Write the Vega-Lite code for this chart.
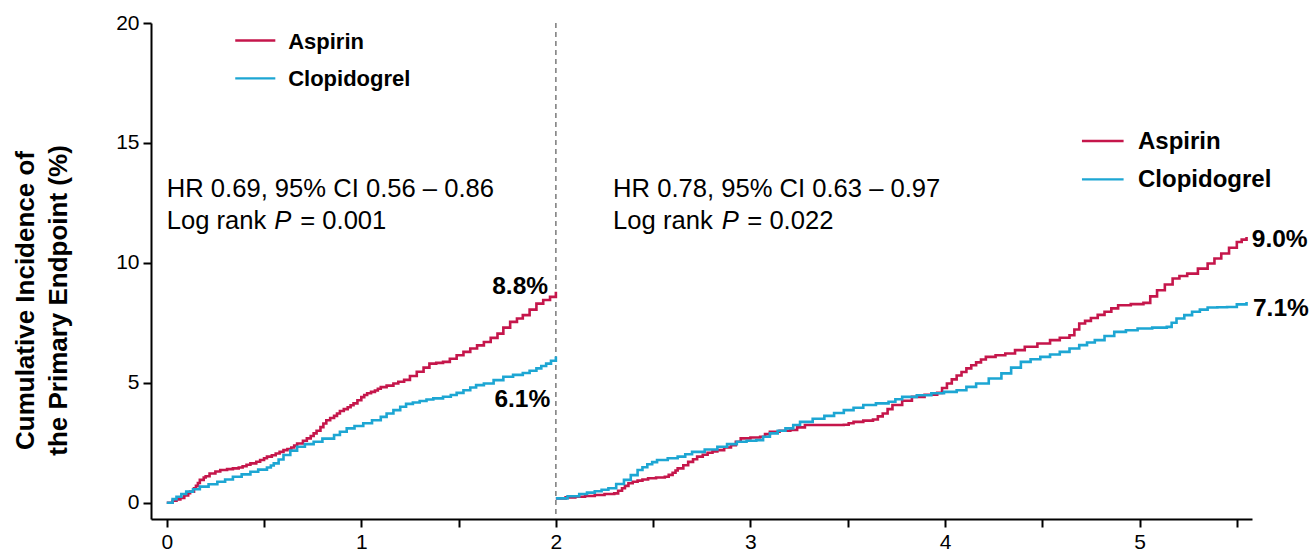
{
  "$schema": "https://vega.github.io/schema/vega-lite/v6.json",
  "autosize": "none",
  "width": 1101,
  "height": 496,
  "padding": {"left": 151, "top": 23, "right": 63, "bottom": 35},
  "background": "white",
  "config": {
    "font": "Liberation Sans",
    "view": {"stroke": null},
    "axis": {
      "grid": false,
      "domainColor": "#000000",
      "domainWidth": 2,
      "tickColor": "#000000",
      "tickWidth": 2,
      "tickSize": 8,
      "labelColor": "#000000",
      "labelFont": "Liberation Sans",
      "labelFontSize": 21
    }
  },
  "datasets": {
    "curves": [
      {"group": "Aspirin", "period": "0-2", "t": 0, "pct": 0},
      {"group": "Aspirin", "period": "0-2", "t": 0.03, "pct": 0.08},
      {"group": "Aspirin", "period": "0-2", "t": 0.05, "pct": 0.14},
      {"group": "Aspirin", "period": "0-2", "t": 0.07, "pct": 0.2},
      {"group": "Aspirin", "period": "0-2", "t": 0.09, "pct": 0.3},
      {"group": "Aspirin", "period": "0-2", "t": 0.11, "pct": 0.4},
      {"group": "Aspirin", "period": "0-2", "t": 0.12, "pct": 0.46},
      {"group": "Aspirin", "period": "0-2", "t": 0.14, "pct": 0.6},
      {"group": "Aspirin", "period": "0-2", "t": 0.15, "pct": 0.7},
      {"group": "Aspirin", "period": "0-2", "t": 0.16, "pct": 0.82},
      {"group": "Aspirin", "period": "0-2", "t": 0.17, "pct": 0.95},
      {"group": "Aspirin", "period": "0-2", "t": 0.19, "pct": 1.05},
      {"group": "Aspirin", "period": "0-2", "t": 0.2, "pct": 1.1},
      {"group": "Aspirin", "period": "0-2", "t": 0.22, "pct": 1.22},
      {"group": "Aspirin", "period": "0-2", "t": 0.25, "pct": 1.3},
      {"group": "Aspirin", "period": "0-2", "t": 0.275, "pct": 1.36},
      {"group": "Aspirin", "period": "0-2", "t": 0.31, "pct": 1.4},
      {"group": "Aspirin", "period": "0-2", "t": 0.34, "pct": 1.43},
      {"group": "Aspirin", "period": "0-2", "t": 0.37, "pct": 1.47},
      {"group": "Aspirin", "period": "0-2", "t": 0.39, "pct": 1.52},
      {"group": "Aspirin", "period": "0-2", "t": 0.41, "pct": 1.58},
      {"group": "Aspirin", "period": "0-2", "t": 0.43, "pct": 1.64},
      {"group": "Aspirin", "period": "0-2", "t": 0.46, "pct": 1.71},
      {"group": "Aspirin", "period": "0-2", "t": 0.48, "pct": 1.78},
      {"group": "Aspirin", "period": "0-2", "t": 0.5, "pct": 1.85},
      {"group": "Aspirin", "period": "0-2", "t": 0.515, "pct": 1.92},
      {"group": "Aspirin", "period": "0-2", "t": 0.54, "pct": 1.98},
      {"group": "Aspirin", "period": "0-2", "t": 0.56, "pct": 2.05},
      {"group": "Aspirin", "period": "0-2", "t": 0.58, "pct": 2.12},
      {"group": "Aspirin", "period": "0-2", "t": 0.6, "pct": 2.19},
      {"group": "Aspirin", "period": "0-2", "t": 0.62, "pct": 2.24},
      {"group": "Aspirin", "period": "0-2", "t": 0.64, "pct": 2.3},
      {"group": "Aspirin", "period": "0-2", "t": 0.655, "pct": 2.38},
      {"group": "Aspirin", "period": "0-2", "t": 0.67, "pct": 2.47},
      {"group": "Aspirin", "period": "0-2", "t": 0.7, "pct": 2.58},
      {"group": "Aspirin", "period": "0-2", "t": 0.72, "pct": 2.68},
      {"group": "Aspirin", "period": "0-2", "t": 0.74, "pct": 2.78},
      {"group": "Aspirin", "period": "0-2", "t": 0.755, "pct": 2.89},
      {"group": "Aspirin", "period": "0-2", "t": 0.77, "pct": 3.0},
      {"group": "Aspirin", "period": "0-2", "t": 0.79, "pct": 3.15},
      {"group": "Aspirin", "period": "0-2", "t": 0.805, "pct": 3.3},
      {"group": "Aspirin", "period": "0-2", "t": 0.82, "pct": 3.44},
      {"group": "Aspirin", "period": "0-2", "t": 0.84, "pct": 3.53},
      {"group": "Aspirin", "period": "0-2", "t": 0.86, "pct": 3.62},
      {"group": "Aspirin", "period": "0-2", "t": 0.875, "pct": 3.72},
      {"group": "Aspirin", "period": "0-2", "t": 0.89, "pct": 3.82},
      {"group": "Aspirin", "period": "0-2", "t": 0.91, "pct": 3.9},
      {"group": "Aspirin", "period": "0-2", "t": 0.93, "pct": 3.98},
      {"group": "Aspirin", "period": "0-2", "t": 0.945, "pct": 4.06},
      {"group": "Aspirin", "period": "0-2", "t": 0.96, "pct": 4.14},
      {"group": "Aspirin", "period": "0-2", "t": 0.98, "pct": 4.27},
      {"group": "Aspirin", "period": "0-2", "t": 1.0, "pct": 4.4},
      {"group": "Aspirin", "period": "0-2", "t": 1.015, "pct": 4.49},
      {"group": "Aspirin", "period": "0-2", "t": 1.03, "pct": 4.56},
      {"group": "Aspirin", "period": "0-2", "t": 1.05, "pct": 4.62},
      {"group": "Aspirin", "period": "0-2", "t": 1.07, "pct": 4.68},
      {"group": "Aspirin", "period": "0-2", "t": 1.085, "pct": 4.75},
      {"group": "Aspirin", "period": "0-2", "t": 1.1, "pct": 4.82},
      {"group": "Aspirin", "period": "0-2", "t": 1.13, "pct": 4.88},
      {"group": "Aspirin", "period": "0-2", "t": 1.165, "pct": 4.97},
      {"group": "Aspirin", "period": "0-2", "t": 1.19, "pct": 5.04},
      {"group": "Aspirin", "period": "0-2", "t": 1.22, "pct": 5.12},
      {"group": "Aspirin", "period": "0-2", "t": 1.25, "pct": 5.28},
      {"group": "Aspirin", "period": "0-2", "t": 1.285, "pct": 5.46},
      {"group": "Aspirin", "period": "0-2", "t": 1.32, "pct": 5.63},
      {"group": "Aspirin", "period": "0-2", "t": 1.35, "pct": 5.8},
      {"group": "Aspirin", "period": "0-2", "t": 1.385, "pct": 5.83},
      {"group": "Aspirin", "period": "0-2", "t": 1.42, "pct": 5.87},
      {"group": "Aspirin", "period": "0-2", "t": 1.455, "pct": 6.0},
      {"group": "Aspirin", "period": "0-2", "t": 1.49, "pct": 6.15},
      {"group": "Aspirin", "period": "0-2", "t": 1.525, "pct": 6.29},
      {"group": "Aspirin", "period": "0-2", "t": 1.56, "pct": 6.43},
      {"group": "Aspirin", "period": "0-2", "t": 1.595, "pct": 6.56},
      {"group": "Aspirin", "period": "0-2", "t": 1.63, "pct": 6.7},
      {"group": "Aspirin", "period": "0-2", "t": 1.665, "pct": 6.87},
      {"group": "Aspirin", "period": "0-2", "t": 1.7, "pct": 7.05},
      {"group": "Aspirin", "period": "0-2", "t": 1.73, "pct": 7.3},
      {"group": "Aspirin", "period": "0-2", "t": 1.765, "pct": 7.54},
      {"group": "Aspirin", "period": "0-2", "t": 1.8, "pct": 7.68},
      {"group": "Aspirin", "period": "0-2", "t": 1.83, "pct": 7.82},
      {"group": "Aspirin", "period": "0-2", "t": 1.865, "pct": 8.05},
      {"group": "Aspirin", "period": "0-2", "t": 1.9, "pct": 8.3},
      {"group": "Aspirin", "period": "0-2", "t": 1.935, "pct": 8.45},
      {"group": "Aspirin", "period": "0-2", "t": 1.97, "pct": 8.58},
      {"group": "Aspirin", "period": "0-2", "t": 2.0, "pct": 8.8},

      {"group": "Clopidogrel", "period": "0-2", "t": 0, "pct": 0},
      {"group": "Clopidogrel", "period": "0-2", "t": 0.03, "pct": 0.15},
      {"group": "Clopidogrel", "period": "0-2", "t": 0.05, "pct": 0.25},
      {"group": "Clopidogrel", "period": "0-2", "t": 0.075, "pct": 0.36},
      {"group": "Clopidogrel", "period": "0-2", "t": 0.1, "pct": 0.46},
      {"group": "Clopidogrel", "period": "0-2", "t": 0.135, "pct": 0.56},
      {"group": "Clopidogrel", "period": "0-2", "t": 0.17, "pct": 0.67},
      {"group": "Clopidogrel", "period": "0-2", "t": 0.215, "pct": 0.77},
      {"group": "Clopidogrel", "period": "0-2", "t": 0.26, "pct": 0.87},
      {"group": "Clopidogrel", "period": "0-2", "t": 0.3, "pct": 0.97},
      {"group": "Clopidogrel", "period": "0-2", "t": 0.34, "pct": 1.08},
      {"group": "Clopidogrel", "period": "0-2", "t": 0.385, "pct": 1.18},
      {"group": "Clopidogrel", "period": "0-2", "t": 0.43, "pct": 1.29},
      {"group": "Clopidogrel", "period": "0-2", "t": 0.47, "pct": 1.38},
      {"group": "Clopidogrel", "period": "0-2", "t": 0.515, "pct": 1.47},
      {"group": "Clopidogrel", "period": "0-2", "t": 0.535, "pct": 1.55},
      {"group": "Clopidogrel", "period": "0-2", "t": 0.55, "pct": 1.64},
      {"group": "Clopidogrel", "period": "0-2", "t": 0.575, "pct": 1.8},
      {"group": "Clopidogrel", "period": "0-2", "t": 0.6, "pct": 1.99},
      {"group": "Clopidogrel", "period": "0-2", "t": 0.635, "pct": 2.17},
      {"group": "Clopidogrel", "period": "0-2", "t": 0.67, "pct": 2.33},
      {"group": "Clopidogrel", "period": "0-2", "t": 0.71, "pct": 2.44},
      {"group": "Clopidogrel", "period": "0-2", "t": 0.755, "pct": 2.54},
      {"group": "Clopidogrel", "period": "0-2", "t": 0.8, "pct": 2.67},
      {"group": "Clopidogrel", "period": "0-2", "t": 0.86, "pct": 2.82},
      {"group": "Clopidogrel", "period": "0-2", "t": 0.89, "pct": 2.96},
      {"group": "Clopidogrel", "period": "0-2", "t": 0.925, "pct": 3.1},
      {"group": "Clopidogrel", "period": "0-2", "t": 0.965, "pct": 3.2},
      {"group": "Clopidogrel", "period": "0-2", "t": 1.01, "pct": 3.31},
      {"group": "Clopidogrel", "period": "0-2", "t": 1.055, "pct": 3.44},
      {"group": "Clopidogrel", "period": "0-2", "t": 1.1, "pct": 3.58},
      {"group": "Clopidogrel", "period": "0-2", "t": 1.13, "pct": 3.72},
      {"group": "Clopidogrel", "period": "0-2", "t": 1.165, "pct": 3.86},
      {"group": "Clopidogrel", "period": "0-2", "t": 1.2, "pct": 4.0},
      {"group": "Clopidogrel", "period": "0-2", "t": 1.23, "pct": 4.12},
      {"group": "Clopidogrel", "period": "0-2", "t": 1.265, "pct": 4.18},
      {"group": "Clopidogrel", "period": "0-2", "t": 1.3, "pct": 4.24},
      {"group": "Clopidogrel", "period": "0-2", "t": 1.335, "pct": 4.3},
      {"group": "Clopidogrel", "period": "0-2", "t": 1.37, "pct": 4.35},
      {"group": "Clopidogrel", "period": "0-2", "t": 1.42, "pct": 4.42},
      {"group": "Clopidogrel", "period": "0-2", "t": 1.46, "pct": 4.49},
      {"group": "Clopidogrel", "period": "0-2", "t": 1.49, "pct": 4.58},
      {"group": "Clopidogrel", "period": "0-2", "t": 1.525, "pct": 4.69},
      {"group": "Clopidogrel", "period": "0-2", "t": 1.56, "pct": 4.8},
      {"group": "Clopidogrel", "period": "0-2", "t": 1.59, "pct": 4.9},
      {"group": "Clopidogrel", "period": "0-2", "t": 1.63, "pct": 4.97},
      {"group": "Clopidogrel", "period": "0-2", "t": 1.68, "pct": 5.11},
      {"group": "Clopidogrel", "period": "0-2", "t": 1.73, "pct": 5.25},
      {"group": "Clopidogrel", "period": "0-2", "t": 1.78, "pct": 5.33},
      {"group": "Clopidogrel", "period": "0-2", "t": 1.83, "pct": 5.41},
      {"group": "Clopidogrel", "period": "0-2", "t": 1.865, "pct": 5.5},
      {"group": "Clopidogrel", "period": "0-2", "t": 1.9, "pct": 5.6},
      {"group": "Clopidogrel", "period": "0-2", "t": 1.925, "pct": 5.7},
      {"group": "Clopidogrel", "period": "0-2", "t": 1.95, "pct": 5.8},
      {"group": "Clopidogrel", "period": "0-2", "t": 1.975, "pct": 5.92},
      {"group": "Clopidogrel", "period": "0-2", "t": 2.0, "pct": 6.1},

      {"group": "Aspirin", "period": "2+", "t": 2.0, "pct": 0.18},
      {"group": "Aspirin", "period": "2+", "t": 2.05, "pct": 0.22},
      {"group": "Aspirin", "period": "2+", "t": 2.1, "pct": 0.25},
      {"group": "Aspirin", "period": "2+", "t": 2.15, "pct": 0.28},
      {"group": "Aspirin", "period": "2+", "t": 2.2, "pct": 0.32},
      {"group": "Aspirin", "period": "2+", "t": 2.25, "pct": 0.36},
      {"group": "Aspirin", "period": "2+", "t": 2.3, "pct": 0.39},
      {"group": "Aspirin", "period": "2+", "t": 2.32, "pct": 0.5},
      {"group": "Aspirin", "period": "2+", "t": 2.34, "pct": 0.6},
      {"group": "Aspirin", "period": "2+", "t": 2.355, "pct": 0.7},
      {"group": "Aspirin", "period": "2+", "t": 2.373, "pct": 0.81},
      {"group": "Aspirin", "period": "2+", "t": 2.395, "pct": 0.87},
      {"group": "Aspirin", "period": "2+", "t": 2.42, "pct": 0.92},
      {"group": "Aspirin", "period": "2+", "t": 2.445, "pct": 0.97},
      {"group": "Aspirin", "period": "2+", "t": 2.474, "pct": 1.02},
      {"group": "Aspirin", "period": "2+", "t": 2.515, "pct": 1.05},
      {"group": "Aspirin", "period": "2+", "t": 2.56, "pct": 1.08},
      {"group": "Aspirin", "period": "2+", "t": 2.58, "pct": 1.16},
      {"group": "Aspirin", "period": "2+", "t": 2.6, "pct": 1.25},
      {"group": "Aspirin", "period": "2+", "t": 2.615, "pct": 1.34},
      {"group": "Aspirin", "period": "2+", "t": 2.626, "pct": 1.43},
      {"group": "Aspirin", "period": "2+", "t": 2.655, "pct": 1.56},
      {"group": "Aspirin", "period": "2+", "t": 2.68, "pct": 1.7},
      {"group": "Aspirin", "period": "2+", "t": 2.705, "pct": 1.81},
      {"group": "Aspirin", "period": "2+", "t": 2.726, "pct": 1.92},
      {"group": "Aspirin", "period": "2+", "t": 2.755, "pct": 2.0},
      {"group": "Aspirin", "period": "2+", "t": 2.78, "pct": 2.08},
      {"group": "Aspirin", "period": "2+", "t": 2.805, "pct": 2.14},
      {"group": "Aspirin", "period": "2+", "t": 2.83, "pct": 2.19},
      {"group": "Aspirin", "period": "2+", "t": 2.865, "pct": 2.3},
      {"group": "Aspirin", "period": "2+", "t": 2.9, "pct": 2.4},
      {"group": "Aspirin", "period": "2+", "t": 2.925, "pct": 2.54},
      {"group": "Aspirin", "period": "2+", "t": 2.95, "pct": 2.68},
      {"group": "Aspirin", "period": "2+", "t": 3.0, "pct": 2.72},
      {"group": "Aspirin", "period": "2+", "t": 3.05, "pct": 2.75},
      {"group": "Aspirin", "period": "2+", "t": 3.075, "pct": 2.86},
      {"group": "Aspirin", "period": "2+", "t": 3.1, "pct": 2.96},
      {"group": "Aspirin", "period": "2+", "t": 3.15, "pct": 3.0},
      {"group": "Aspirin", "period": "2+", "t": 3.205, "pct": 3.03},
      {"group": "Aspirin", "period": "2+", "t": 3.24, "pct": 3.14},
      {"group": "Aspirin", "period": "2+", "t": 3.28, "pct": 3.24},
      {"group": "Aspirin", "period": "2+", "t": 3.48, "pct": 3.25},
      {"group": "Aspirin", "period": "2+", "t": 3.505, "pct": 3.31},
      {"group": "Aspirin", "period": "2+", "t": 3.53, "pct": 3.37},
      {"group": "Aspirin", "period": "2+", "t": 3.58, "pct": 3.42},
      {"group": "Aspirin", "period": "2+", "t": 3.63, "pct": 3.47},
      {"group": "Aspirin", "period": "2+", "t": 3.655, "pct": 3.6},
      {"group": "Aspirin", "period": "2+", "t": 3.68, "pct": 3.72},
      {"group": "Aspirin", "period": "2+", "t": 3.705, "pct": 3.9},
      {"group": "Aspirin", "period": "2+", "t": 3.73, "pct": 4.07},
      {"group": "Aspirin", "period": "2+", "t": 3.78, "pct": 4.25},
      {"group": "Aspirin", "period": "2+", "t": 3.83, "pct": 4.41},
      {"group": "Aspirin", "period": "2+", "t": 3.895, "pct": 4.5},
      {"group": "Aspirin", "period": "2+", "t": 3.96, "pct": 4.58},
      {"group": "Aspirin", "period": "2+", "t": 3.985, "pct": 4.78},
      {"group": "Aspirin", "period": "2+", "t": 4.01, "pct": 4.97},
      {"group": "Aspirin", "period": "2+", "t": 4.035, "pct": 5.14},
      {"group": "Aspirin", "period": "2+", "t": 4.06, "pct": 5.3},
      {"group": "Aspirin", "period": "2+", "t": 4.085, "pct": 5.45},
      {"group": "Aspirin", "period": "2+", "t": 4.11, "pct": 5.6},
      {"group": "Aspirin", "period": "2+", "t": 4.135, "pct": 5.73},
      {"group": "Aspirin", "period": "2+", "t": 4.16, "pct": 5.85},
      {"group": "Aspirin", "period": "2+", "t": 4.185, "pct": 5.97},
      {"group": "Aspirin", "period": "2+", "t": 4.21, "pct": 6.08},
      {"group": "Aspirin", "period": "2+", "t": 4.26, "pct": 6.15},
      {"group": "Aspirin", "period": "2+", "t": 4.31, "pct": 6.22},
      {"group": "Aspirin", "period": "2+", "t": 4.36, "pct": 6.36},
      {"group": "Aspirin", "period": "2+", "t": 4.41, "pct": 6.5},
      {"group": "Aspirin", "period": "2+", "t": 4.475, "pct": 6.64},
      {"group": "Aspirin", "period": "2+", "t": 4.54, "pct": 6.78},
      {"group": "Aspirin", "period": "2+", "t": 4.59, "pct": 6.88},
      {"group": "Aspirin", "period": "2+", "t": 4.64, "pct": 6.98},
      {"group": "Aspirin", "period": "2+", "t": 4.665, "pct": 7.22},
      {"group": "Aspirin", "period": "2+", "t": 4.69, "pct": 7.47},
      {"group": "Aspirin", "period": "2+", "t": 4.72, "pct": 7.58},
      {"group": "Aspirin", "period": "2+", "t": 4.75, "pct": 7.7},
      {"group": "Aspirin", "period": "2+", "t": 4.785, "pct": 7.83},
      {"group": "Aspirin", "period": "2+", "t": 4.82, "pct": 7.96},
      {"group": "Aspirin", "period": "2+", "t": 4.855, "pct": 8.1},
      {"group": "Aspirin", "period": "2+", "t": 4.89, "pct": 8.23},
      {"group": "Aspirin", "period": "2+", "t": 4.955, "pct": 8.28},
      {"group": "Aspirin", "period": "2+", "t": 5.02, "pct": 8.33},
      {"group": "Aspirin", "period": "2+", "t": 5.055, "pct": 8.6},
      {"group": "Aspirin", "period": "2+", "t": 5.09, "pct": 8.86},
      {"group": "Aspirin", "period": "2+", "t": 5.13, "pct": 9.1},
      {"group": "Aspirin", "period": "2+", "t": 5.17, "pct": 9.35},
      {"group": "Aspirin", "period": "2+", "t": 5.205, "pct": 9.45},
      {"group": "Aspirin", "period": "2+", "t": 5.245, "pct": 9.55},
      {"group": "Aspirin", "period": "2+", "t": 5.3, "pct": 9.76},
      {"group": "Aspirin", "period": "2+", "t": 5.35, "pct": 9.97},
      {"group": "Aspirin", "period": "2+", "t": 5.385, "pct": 10.18},
      {"group": "Aspirin", "period": "2+", "t": 5.42, "pct": 10.39},
      {"group": "Aspirin", "period": "2+", "t": 5.46, "pct": 10.63},
      {"group": "Aspirin", "period": "2+", "t": 5.5, "pct": 10.87},
      {"group": "Aspirin", "period": "2+", "t": 5.525, "pct": 10.97},
      {"group": "Aspirin", "period": "2+", "t": 5.55, "pct": 11.08},

      {"group": "Clopidogrel", "period": "2+", "t": 2.0, "pct": 0.18},
      {"group": "Clopidogrel", "period": "2+", "t": 2.06, "pct": 0.27},
      {"group": "Clopidogrel", "period": "2+", "t": 2.12, "pct": 0.36},
      {"group": "Clopidogrel", "period": "2+", "t": 2.16, "pct": 0.42},
      {"group": "Clopidogrel", "period": "2+", "t": 2.2, "pct": 0.48},
      {"group": "Clopidogrel", "period": "2+", "t": 2.235, "pct": 0.54},
      {"group": "Clopidogrel", "period": "2+", "t": 2.27, "pct": 0.6},
      {"group": "Clopidogrel", "period": "2+", "t": 2.31, "pct": 0.78},
      {"group": "Clopidogrel", "period": "2+", "t": 2.35, "pct": 0.95},
      {"group": "Clopidogrel", "period": "2+", "t": 2.385, "pct": 1.15},
      {"group": "Clopidogrel", "period": "2+", "t": 2.42, "pct": 1.36},
      {"group": "Clopidogrel", "period": "2+", "t": 2.445, "pct": 1.48},
      {"group": "Clopidogrel", "period": "2+", "t": 2.47, "pct": 1.6},
      {"group": "Clopidogrel", "period": "2+", "t": 2.495, "pct": 1.69},
      {"group": "Clopidogrel", "period": "2+", "t": 2.52, "pct": 1.78},
      {"group": "Clopidogrel", "period": "2+", "t": 2.575, "pct": 1.85},
      {"group": "Clopidogrel", "period": "2+", "t": 2.626, "pct": 1.92},
      {"group": "Clopidogrel", "period": "2+", "t": 2.665, "pct": 2.02},
      {"group": "Clopidogrel", "period": "2+", "t": 2.7, "pct": 2.12},
      {"group": "Clopidogrel", "period": "2+", "t": 2.765, "pct": 2.22},
      {"group": "Clopidogrel", "period": "2+", "t": 2.83, "pct": 2.33},
      {"group": "Clopidogrel", "period": "2+", "t": 2.88, "pct": 2.44},
      {"group": "Clopidogrel", "period": "2+", "t": 2.93, "pct": 2.54},
      {"group": "Clopidogrel", "period": "2+", "t": 2.98, "pct": 2.58},
      {"group": "Clopidogrel", "period": "2+", "t": 3.03, "pct": 2.61},
      {"group": "Clopidogrel", "period": "2+", "t": 3.065, "pct": 2.75},
      {"group": "Clopidogrel", "period": "2+", "t": 3.1, "pct": 2.89},
      {"group": "Clopidogrel", "period": "2+", "t": 3.14, "pct": 3.0},
      {"group": "Clopidogrel", "period": "2+", "t": 3.18, "pct": 3.1},
      {"group": "Clopidogrel", "period": "2+", "t": 3.22, "pct": 3.24},
      {"group": "Clopidogrel", "period": "2+", "t": 3.255, "pct": 3.37},
      {"group": "Clopidogrel", "period": "2+", "t": 3.32, "pct": 3.5},
      {"group": "Clopidogrel", "period": "2+", "t": 3.38, "pct": 3.62},
      {"group": "Clopidogrel", "period": "2+", "t": 3.43, "pct": 3.74},
      {"group": "Clopidogrel", "period": "2+", "t": 3.48, "pct": 3.86},
      {"group": "Clopidogrel", "period": "2+", "t": 3.53, "pct": 3.96},
      {"group": "Clopidogrel", "period": "2+", "t": 3.58, "pct": 4.07},
      {"group": "Clopidogrel", "period": "2+", "t": 3.645, "pct": 4.14},
      {"group": "Clopidogrel", "period": "2+", "t": 3.71, "pct": 4.21},
      {"group": "Clopidogrel", "period": "2+", "t": 3.745, "pct": 4.31},
      {"group": "Clopidogrel", "period": "2+", "t": 3.78, "pct": 4.41},
      {"group": "Clopidogrel", "period": "2+", "t": 3.855, "pct": 4.48},
      {"group": "Clopidogrel", "period": "2+", "t": 3.93, "pct": 4.56},
      {"group": "Clopidogrel", "period": "2+", "t": 3.995, "pct": 4.62},
      {"group": "Clopidogrel", "period": "2+", "t": 4.06, "pct": 4.69},
      {"group": "Clopidogrel", "period": "2+", "t": 4.11, "pct": 4.83},
      {"group": "Clopidogrel", "period": "2+", "t": 4.16, "pct": 4.97},
      {"group": "Clopidogrel", "period": "2+", "t": 4.225, "pct": 5.18},
      {"group": "Clopidogrel", "period": "2+", "t": 4.29, "pct": 5.39},
      {"group": "Clopidogrel", "period": "2+", "t": 4.34, "pct": 5.63},
      {"group": "Clopidogrel", "period": "2+", "t": 4.39, "pct": 5.87},
      {"group": "Clopidogrel", "period": "2+", "t": 4.44, "pct": 5.98},
      {"group": "Clopidogrel", "period": "2+", "t": 4.49, "pct": 6.08},
      {"group": "Clopidogrel", "period": "2+", "t": 4.54, "pct": 6.18},
      {"group": "Clopidogrel", "period": "2+", "t": 4.59, "pct": 6.29},
      {"group": "Clopidogrel", "period": "2+", "t": 4.64, "pct": 6.43},
      {"group": "Clopidogrel", "period": "2+", "t": 4.69, "pct": 6.57},
      {"group": "Clopidogrel", "period": "2+", "t": 4.73, "pct": 6.68},
      {"group": "Clopidogrel", "period": "2+", "t": 4.77, "pct": 6.78},
      {"group": "Clopidogrel", "period": "2+", "t": 4.82, "pct": 6.95},
      {"group": "Clopidogrel", "period": "2+", "t": 4.87, "pct": 7.12},
      {"group": "Clopidogrel", "period": "2+", "t": 4.93, "pct": 7.19},
      {"group": "Clopidogrel", "period": "2+", "t": 4.99, "pct": 7.26},
      {"group": "Clopidogrel", "period": "2+", "t": 5.065, "pct": 7.3},
      {"group": "Clopidogrel", "period": "2+", "t": 5.14, "pct": 7.33},
      {"group": "Clopidogrel", "period": "2+", "t": 5.165, "pct": 7.5},
      {"group": "Clopidogrel", "period": "2+", "t": 5.19, "pct": 7.68},
      {"group": "Clopidogrel", "period": "2+", "t": 5.23, "pct": 7.82},
      {"group": "Clopidogrel", "period": "2+", "t": 5.27, "pct": 7.96},
      {"group": "Clopidogrel", "period": "2+", "t": 5.31, "pct": 8.05},
      {"group": "Clopidogrel", "period": "2+", "t": 5.35, "pct": 8.14},
      {"group": "Clopidogrel", "period": "2+", "t": 5.4, "pct": 8.15},
      {"group": "Clopidogrel", "period": "2+", "t": 5.45, "pct": 8.16},
      {"group": "Clopidogrel", "period": "2+", "t": 5.5, "pct": 8.27},
      {"group": "Clopidogrel", "period": "2+", "t": 5.55, "pct": 8.37}
    ],
    "legendKeys": [
      {"panel": "left", "group": "Aspirin", "t0": 0.352, "t1": 0.558, "tText": 0.624, "pct": 19.27},
      {"panel": "left", "group": "Clopidogrel", "t0": 0.352, "t1": 0.558, "tText": 0.624, "pct": 17.69},
      {"panel": "right", "group": "Aspirin", "t0": 4.704, "t1": 4.918, "tText": 4.992, "pct": 15.08},
      {"panel": "right", "group": "Clopidogrel", "t0": 4.704, "t1": 4.918, "tText": 4.992, "pct": 13.48}
    ],
    "stats": [
      {"part": "plain", "t": 0.0, "pct": 12.74, "text": "HR 0.69, 95% CI 0.56 – 0.86"},
      {"part": "plain", "t": 0.0, "pct": 11.4, "text": "Log rank"},
      {"part": "symbol", "t": 0.552, "pct": 11.4, "text": "P"},
      {"part": "plain", "t": 0.686, "pct": 11.4, "text": "= 0.001"},
      {"part": "plain", "t": 2.294, "pct": 12.74, "text": "HR 0.78, 95% CI 0.63 – 0.97"},
      {"part": "plain", "t": 2.294, "pct": 11.4, "text": "Log rank"},
      {"part": "symbol", "t": 2.852, "pct": 11.4, "text": "P"},
      {"part": "plain", "t": 2.984, "pct": 11.4, "text": "= 0.022"}
    ],
    "endpoints": [
      {"period": "0-2", "t": 1.96, "pct": 8.69, "text": "8.8%"},
      {"period": "0-2", "t": 1.971, "pct": 4.0, "text": "6.1%"},
      {"period": "2+", "t": 5.577, "pct": 10.66, "text": "9.0%"},
      {"period": "2+", "t": 5.583, "pct": 7.78, "text": "7.1%"}
    ]
  },
  "layer": [
    {
      "data": {"values": [{"t": 2}]},
      "mark": {"type": "rule", "color": "#7a7a7a", "strokeWidth": 1.5, "strokeDash": [5, 4]},
      "encoding": {
        "x": {"field": "t", "type": "quantitative"}
      }
    },
    {
      "data": {"name": "curves"},
      "mark": {"type": "line", "interpolate": "step-after", "strokeWidth": 2.6, "strokeJoin": "miter"},
      "encoding": {
        "x": {
          "field": "t",
          "type": "quantitative",
          "scale": {"domain": [-0.081, 5.578], "nice": false, "zero": false},
          "axis": {
            "title": null,
            "values": [0, 0.5, 1, 1.5, 2, 2.5, 3, 3.5, 4, 4.5, 5, 5.5],
            "labelExpr": "datum.value % 1 === 0 ? format(datum.value, 'd') : ''",
            "labelPadding": 4,
            "labelFontSize": 21
          }
        },
        "y": {
          "field": "pct",
          "type": "quantitative",
          "scale": {"domain": [-0.68, 20], "nice": false, "zero": false},
          "axis": {
            "title": ["Cumulative Incidence of", "the Primary Endpoint (%)"],
            "titleFont": "Liberation Sans",
            "titleFontSize": 26,
            "titleFontWeight": "bold",
            "titleColor": "#000000",
            "titleLineHeight": 33,
            "titlePadding": 44,
            "titleY": 277,
            "values": [0, 5, 10, 15, 20],
            "labelPadding": 4,
            "labelFontSize": 21
          }
        },
        "color": {
          "field": "group",
          "type": "nominal",
          "scale": {"domain": ["Aspirin", "Clopidogrel"], "range": ["#C5164B", "#1DA6D3"]},
          "legend": null
        },
        "detail": {"field": "period"}
      }
    },
    {
      "data": {"name": "legendKeys"},
      "mark": {"type": "rule", "strokeWidth": 2.4},
      "encoding": {
        "x": {"field": "t0", "type": "quantitative"},
        "x2": {"field": "t1"},
        "y": {"field": "pct", "type": "quantitative"},
        "color": {"field": "group", "type": "nominal", "legend": null}
      }
    },
    {
      "data": {"name": "legendKeys"},
      "transform": [{"filter": "datum.panel === 'left'"}],
      "mark": {"type": "text", "align": "left", "baseline": "middle", "fontSize": 22, "fontWeight": "bold", "color": "#000000", "dy": 1},
      "encoding": {
        "x": {"field": "tText", "type": "quantitative"},
        "y": {"field": "pct", "type": "quantitative"},
        "text": {"field": "group"}
      }
    },
    {
      "data": {"name": "legendKeys"},
      "transform": [{"filter": "datum.panel === 'right'"}],
      "mark": {"type": "text", "align": "left", "baseline": "middle", "fontSize": 24, "fontWeight": "bold", "color": "#000000", "dy": 1},
      "encoding": {
        "x": {"field": "tText", "type": "quantitative"},
        "y": {"field": "pct", "type": "quantitative"},
        "text": {"field": "group"}
      }
    },
    {
      "data": {"name": "stats"},
      "transform": [{"filter": "datum.part === 'plain'"}],
      "mark": {"type": "text", "align": "left", "baseline": "alphabetic", "fontSize": 25.6, "color": "#000000"},
      "encoding": {
        "x": {"field": "t", "type": "quantitative"},
        "y": {"field": "pct", "type": "quantitative"},
        "text": {"field": "text"}
      }
    },
    {
      "data": {"name": "stats"},
      "transform": [{"filter": "datum.part === 'symbol'"}],
      "mark": {"type": "text", "align": "left", "baseline": "alphabetic", "fontSize": 25.6, "fontStyle": "italic", "color": "#000000"},
      "encoding": {
        "x": {"field": "t", "type": "quantitative"},
        "y": {"field": "pct", "type": "quantitative"},
        "text": {"field": "text"}
      }
    },
    {
      "data": {"name": "endpoints"},
      "transform": [{"filter": "datum.period === '0-2'"}],
      "mark": {"type": "text", "align": "right", "baseline": "alphabetic", "fontSize": 24.5, "fontWeight": "bold", "color": "#000000"},
      "encoding": {
        "x": {"field": "t", "type": "quantitative"},
        "y": {"field": "pct", "type": "quantitative"},
        "text": {"field": "text"}
      }
    },
    {
      "data": {"name": "endpoints"},
      "transform": [{"filter": "datum.period === '2+'"}],
      "mark": {"type": "text", "align": "left", "baseline": "alphabetic", "fontSize": 24.5, "fontWeight": "bold", "color": "#000000"},
      "encoding": {
        "x": {"field": "t", "type": "quantitative"},
        "y": {"field": "pct", "type": "quantitative"},
        "text": {"field": "text"}
      }
    }
  ]
}
